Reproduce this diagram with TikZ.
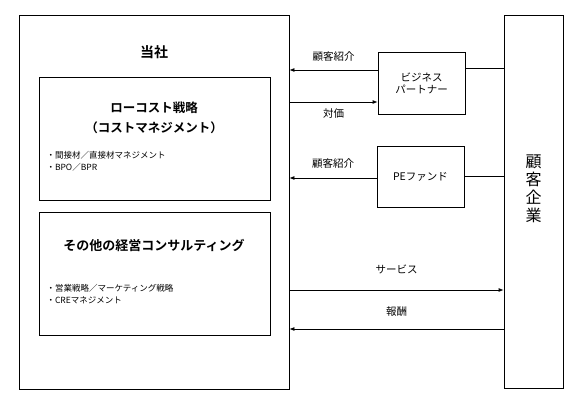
\documentclass[tikz,border=0pt]{standalone}
\usepackage{fontspec}
\setmainfont{Noto Sans CJK JP}[BoldFont={Noto Sans CJK JP Bold}]
\usetikzlibrary{arrows.meta}

\begin{document}
\begin{tikzpicture}[x=1pt, y=-1pt,
    box/.style = {draw, line width=0.8pt, inner sep=0pt},
    arr/.style = {line width=0.8pt, -{Latex[length=5pt,width=4pt]}},
    lbl/.style = {font=\fontsize{10.5}{12}\selectfont},
    big/.style = {font=\fontsize{13}{20}\selectfont\bfseries, align=center},
    small/.style = {font=\fontsize{8.5}{12}\selectfont, align=left, anchor=west}]
        \useasboundingbox (0,0) rectangle (584,406);

        \node[box, minimum width=270pt, minimum height=374pt] (tosha) at (154,202) {};
        \node[box, minimum width=231pt, minimum height=123pt] (lowcost) at (154.5,138.5) {};
        \node[box, minimum width=231pt, minimum height=123pt] (other) at (154.5,273.5) {};
        \node[box, minimum width=59pt, minimum height=373pt] (client) at (533.5,201.5) {};
        \node[box, minimum width=87pt, minimum height=62pt, align=center, lbl] (partner) at (421.5,83) {ビジネス\\パートナー};
        \node[box, minimum width=87pt, minimum height=61pt, lbl] (pe) at (420.5,176.5) {PEファンド};

        \node[font=\fontsize{14}{16}\selectfont\bfseries] (toshalabel) at (154,52) {当社};
        \node[big, font=\fontsize{12.5}{20}\selectfont\bfseries] (lowcosttitle) at (154,118) {ローコスト戦略\\（コストマネジメント）};
        \node[small] (lowcostitems) at (43,161) {・間接材／直接材マネジメント\\・BPO／BPR};
        \node[big] (othertitle) at (154,245) {その他の経営コンサルティング};
        \node[small] (otheritems) at (43,294.5) {・営業戦略／マーケティング戦略\\・CREマネジメント};
        \node[font=\fontsize{16}{18}\selectfont, align=center] (clientlabel) at (533.5,189) {顧\\客\\企\\業};

        \draw[arr] ([yshift=13pt]partner.west) -- node[midway, above=5pt, lbl] {顧客紹介} ([yshift=13pt]partner.west -| tosha.east);
        \draw[arr] ([yshift=-19pt]partner.west -| tosha.east) -- node[midway, below=3pt, lbl] {対価} ([yshift=-19pt]partner.west);
        \draw[line width=0.8pt] ([yshift=15pt]partner.east) -- ([yshift=15pt]partner.east -| client.west);
        \draw[arr] ([yshift=-1.5pt]pe.west) -- node[midway, above=6pt, lbl] {顧客紹介} ([yshift=-1.5pt]pe.west -| tosha.east);
        \draw[line width=0.8pt] (pe.east) -- (pe.east -| client.west);
        \draw[arr] ([yshift=-88pt]tosha.east) -- node[midway, above=12pt, lbl] {サービス} ([yshift=-88pt]tosha.east -| client.west);
        \draw[arr] ([yshift=-127pt]tosha.east -| client.west) -- node[midway, above=9pt, lbl] {報酬} ([yshift=-127pt]tosha.east);

        \end{tikzpicture}
\end{document}
